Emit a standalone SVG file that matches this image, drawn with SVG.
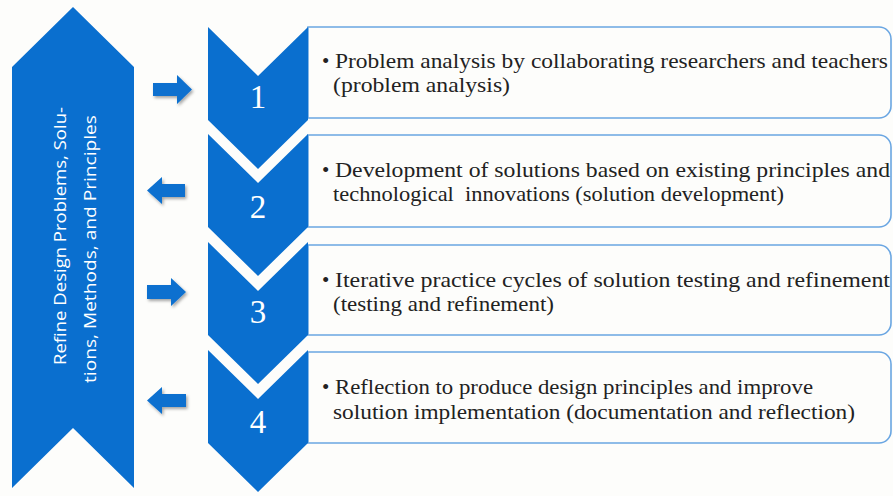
<svg xmlns="http://www.w3.org/2000/svg" width="893" height="496" viewBox="0 0 893 496">
  <defs>
    <filter id="shadow" x="-30%" y="-30%" width="160%" height="160%">
      <feDropShadow dx="1.5" dy="2" stdDeviation="1.5" flood-color="#000" flood-opacity="0.35"/>
    </filter>
    <style>
      .blue { fill: #0a6fcf; }
      .box { fill: #fdfdfb; stroke: #6aa6e2; stroke-width: 1.6; }
      .num { font-family: "Liberation Serif", "Times New Roman", serif; font-size: 33px; fill: #ffffff; text-anchor: middle; }
      .txt { font-family: "Liberation Serif", "Times New Roman", serif; font-size: 21px; fill: #222222; }
      .side { font-family: "Open Sans", Lato, "Liberation Sans", sans-serif; font-size: 17px; fill: #ffffff; }
      .arrow { fill: #0a6fcf; filter: url(#shadow); }
    </style>
  </defs>
  <rect x="0" y="0" width="893" height="496" fill="#fdfdfb"/>

  <g id="banner">
    <path class="blue" d="M12,67 L73,7 L134,67 L134,488 L73,428 L12,488 Z"/>
    <text class="side" transform="translate(66,365) rotate(-90)" textLength="258" lengthAdjust="spacingAndGlyphs">Refine Design Problems, Solu-</text>
    <text class="side" transform="translate(96,383) rotate(-90)" textLength="268" lengthAdjust="spacingAndGlyphs">tions, Methods, and Principles</text>
  </g>

  <g id="connectors">
    <polygon class="arrow" points="153,83 177,83 177,75 192,89.5 177,104 177,96 153,96"/>
    <polygon class="arrow" points="147,190.5 162,177 162,184 185,184 185,197 162,197 162,204"/>
    <polygon class="arrow" points="147,285 171,285 171,278 186,292 171,306 171,299 147,299"/>
    <polygon class="arrow" points="147,400.5 162,387 162,394 186,394 186,407 162,407 162,414"/>
  </g>

  <g id="step1">
    <path class="box" d="M308,27 H879 A12,12 0 0 1 891,39 V106 A12,12 0 0 1 879,118 H308 Z"/>
    <path class="blue" d="M208,27 L258,76 L308,27 L308,120 L258,169 L208,120 Z"/>
    <text class="num" x="258" y="108">1</text>
    <text class="txt" x="322" y="68">•</text>
    <text class="txt" x="335" y="68" textLength="553" lengthAdjust="spacingAndGlyphs">Problem analysis by collaborating researchers and teachers</text>
    <text class="txt" x="333" y="92" textLength="177" lengthAdjust="spacingAndGlyphs">(problem analysis)</text>
  </g>

  <g id="step2">
    <path class="box" d="M308,135 H879 A12,12 0 0 1 891,147 V215 A12,12 0 0 1 879,227 H308 Z"/>
    <path class="blue" d="M208,134 L258,183 L308,134 L308,227 L258,276 L208,227 Z"/>
    <text class="num" x="258" y="218">2</text>
    <text class="txt" x="322" y="177">•</text>
    <text class="txt" x="335" y="177" textLength="555" lengthAdjust="spacingAndGlyphs">Development of solutions based on existing principles and</text>
    <text class="txt" x="333" y="201" textLength="451" lengthAdjust="spacingAndGlyphs">technological&#160; innovations (solution development)</text>
  </g>

  <g id="step3">
    <path class="box" d="M308,245 H879 A12,12 0 0 1 891,257 V323 A12,12 0 0 1 879,335 H308 Z"/>
    <path class="blue" d="M208,242 L258,291 L308,242 L308,335 L258,384 L208,335 Z"/>
    <text class="num" x="258" y="323">3</text>
    <text class="txt" x="322" y="287">•</text>
    <text class="txt" x="335" y="287" textLength="555" lengthAdjust="spacingAndGlyphs">Iterative practice cycles of solution testing and refinement</text>
    <text class="txt" x="333" y="311" textLength="221" lengthAdjust="spacingAndGlyphs">(testing and refinement)</text>
  </g>

  <g id="step4">
    <path class="box" d="M308,352 H879 A12,12 0 0 1 891,364 V431 A12,12 0 0 1 879,443 H308 Z"/>
    <path class="blue" d="M208,350 L258,399 L308,350 L308,443 L258,492 L208,443 Z"/>
    <text class="num" x="258" y="433">4</text>
    <text class="txt" x="322" y="394">•</text>
    <text class="txt" x="335" y="394" textLength="478" lengthAdjust="spacingAndGlyphs">Reflection to produce design principles and improve</text>
    <text class="txt" x="333" y="419" textLength="522" lengthAdjust="spacingAndGlyphs">solution implementation (documentation and reflection)</text>
  </g>
</svg>
